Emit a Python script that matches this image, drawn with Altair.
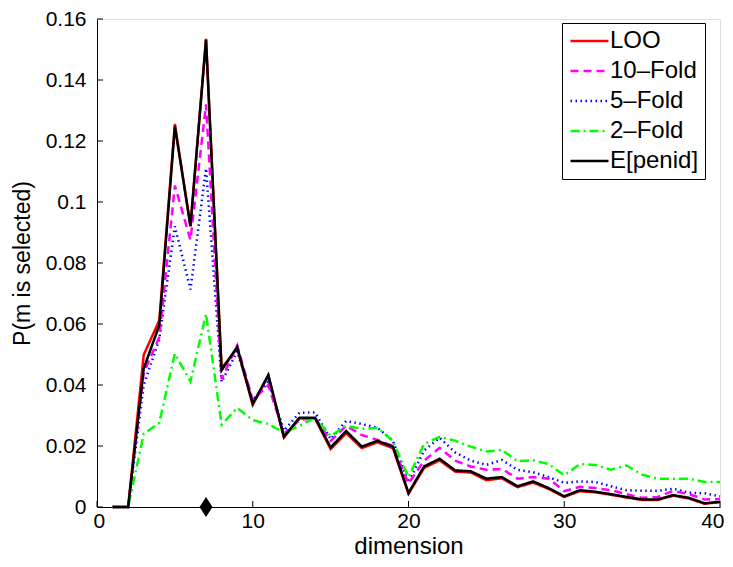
import altair as alt
import pandas as pd

dims = list(range(1, 41))

loo = [0, 0, 0.0499, 0.0612, 0.1256, 0.0920, 0.1535, 0.0455, 0.0520, 0.0335,
       0.0430, 0.0228, 0.0290, 0.0290, 0.0190, 0.0242, 0.0193, 0.0212, 0.0193, 0.0043,
       0.0128, 0.0153, 0.0116, 0.0113, 0.0088, 0.0094, 0.0065, 0.0080, 0.0059, 0.0033,
       0.0052, 0.0048, 0.0040, 0.0031, 0.0023, 0.0023, 0.0037, 0.0028, 0.0011, 0.0016]
fold10 = [0, 0, 0.0440, 0.0557, 0.1054, 0.0876, 0.1320, 0.0420, 0.0530, 0.0350,
          0.0400, 0.0240, 0.0285, 0.0292, 0.0217, 0.0266, 0.0236, 0.0220, 0.0200, 0.0077,
          0.0152, 0.0194, 0.0152, 0.0133, 0.0122, 0.0125, 0.0093, 0.0098, 0.0093, 0.0052,
          0.0066, 0.0062, 0.0055, 0.0042, 0.0030, 0.0033, 0.0053, 0.0042, 0.0025, 0.0026]
fold5 = [0, 0, 0.0400, 0.0550, 0.0920, 0.0713, 0.1110, 0.0410, 0.0510, 0.0350,
         0.0410, 0.0250, 0.0309, 0.0310, 0.0223, 0.0282, 0.0272, 0.0260, 0.0217, 0.0080,
         0.0185, 0.0227, 0.0179, 0.0152, 0.0138, 0.0154, 0.0122, 0.0114, 0.0098, 0.0079,
         0.0084, 0.0082, 0.0068, 0.0055, 0.0053, 0.0053, 0.0060, 0.0047, 0.0045, 0.0035]
fold2 = [0, 0, 0.0240, 0.0276, 0.0503, 0.0411, 0.0633, 0.0270, 0.0325, 0.0285,
         0.0272, 0.0244, 0.0266, 0.0293, 0.0233, 0.0266, 0.0256, 0.0260, 0.0217, 0.0098,
         0.0207, 0.0230, 0.0217, 0.0198, 0.0182, 0.0187, 0.0150, 0.0153, 0.0141, 0.0104,
         0.0141, 0.0138, 0.0122, 0.0136, 0.0106, 0.0093, 0.0093, 0.0093, 0.0082, 0.0082]
penid = [0, 0, 0.0454, 0.0596, 0.1248, 0.0921, 0.1532, 0.0448, 0.0525, 0.0338,
         0.0433, 0.0230, 0.0293, 0.0293, 0.0195, 0.0249, 0.0198, 0.0217, 0.0198, 0.0046,
         0.0133, 0.0158, 0.0120, 0.0117, 0.0093, 0.0098, 0.0068, 0.0084, 0.0062, 0.0035,
         0.0055, 0.0050, 0.0042, 0.0033, 0.0025, 0.0025, 0.0039, 0.0030, 0.0012, 0.0017]

series_names = ["LOO", "10–Fold", "5–Fold", "2–Fold", "E[penid]"]
series_vals = [loo, fold10, fold5, fold2, penid]
series_colors = ["#ff0000", "#ff00ff", "#0000ff", "#00ff00", "#000000"]
series_dash = [[1, 0], [8, 5], [1.5, 3.5], [9, 4, 2, 4], [1, 0]]
series_width = [2.5, 2.5, 1.2, 2.5, 2.5]
draw_order = ["LOO", "5–Fold", "10–Fold", "2–Fold", "E[penid]"]

marker_dim = [7]
marker_val = [0]

y_ticks = [0, 0.02, 0.04, 0.06, 0.08, 0.1, 0.12, 0.14, 0.16]
x_ticks = [0, 10, 20, 30, 40]

rows = []
for name, vals in zip(series_names, series_vals):
    for d, v in zip(dims, vals):
        rows.append({"dimension": d, "p": v, "series": name})
df = pd.DataFrame(rows)

FONT = "Liberation Sans"
W, H = 623, 488

xscale = alt.Scale(domain=[0, 40], nice=False, zero=False)
yscale = alt.Scale(domain=[0, 0.16], nice=False)

legend = alt.Legend(
    title=None, orient="none", legendX=465, legendY=4,
    strokeColor="black", fillColor="white", padding=6, cornerRadius=0,
    labelFont=FONT, labelFontSize=24, labelColor="black", labelOffset=18,
    symbolType="M-1,0H3", symbolSize=361, rowPadding=6, labelLimit=300,
)

layers = []
for name in draw_order:
    layers.append(
        alt.Chart(df).transform_filter(alt.datum.series == name).mark_line(clip=False).encode(
            x=alt.X("dimension:Q", scale=xscale,
                    axis=alt.Axis(values=x_ticks, title="dimension", ticks=False, grid=False,
                                  labelFont=FONT, labelFontSize=21, labelColor="black",
                                  labelPadding=3, labelFlush=True, labelFlushOffset=4,
                                  titleFont=FONT, titleFontSize=24,
                                  titleFontWeight="normal", titleColor="black", titlePadding=3,
                                  domainColor="black", domainWidth=1)),
            y=alt.Y("p:Q", scale=yscale,
                    axis=alt.Axis(values=y_ticks, format="~g", title="P(m is selected)",
                                  ticks=False, grid=False, labelFont=FONT, labelFontSize=21,
                                  labelColor="black", labelPadding=11, titleFont=FONT,
                                  titleFontSize=23, titleFontWeight="normal", titleColor="black",
                                  titlePadding=11, domainColor="black", domainWidth=1)),
            color=alt.Color("series:N", scale=alt.Scale(domain=series_names, range=series_colors),
                            legend=legend),
            strokeDash=alt.StrokeDash("series:N", scale=alt.Scale(domain=series_names, range=series_dash),
                                      legend=legend),
            strokeWidth=alt.StrokeWidth("series:N", scale=alt.Scale(domain=series_names, range=series_width),
                                        legend=legend),
        )
    )

ytick_df = pd.DataFrame({"v": y_ticks})
xtick_df = pd.DataFrame({"v": x_ticks})
yticks = alt.Chart(ytick_df).mark_rule(color="black", strokeWidth=1).encode(
    y=alt.Y("v:Q", scale=yscale), x=alt.value(0), x2=alt.value(6))
xticks = alt.Chart(xtick_df).mark_rule(color="black", strokeWidth=1).encode(
    x=alt.X("v:Q", scale=xscale), y=alt.value(H), y2=alt.value(H - 6))

marker = alt.Chart(pd.DataFrame({"d": marker_dim, "v": marker_val})).mark_point(
    shape="M0,-1L0.65,0L0,1L-0.65,0Z", filled=True, color="black", opacity=1, size=400, clip=False
).encode(x=alt.X("d:Q", scale=xscale), y=alt.Y("v:Q", scale=yscale))

chart = alt.layer(*layers, yticks, xticks, marker).properties(
    width=W, height=H,
    autosize=alt.AutoSizeParams(type="none"),
    padding={"left": 89, "top": 11, "right": 5, "bottom": 50},
).configure_view(stroke=None).configure(background="white")

chart.save("out.html", embed_options={"renderer": "svg", "actions": False})
